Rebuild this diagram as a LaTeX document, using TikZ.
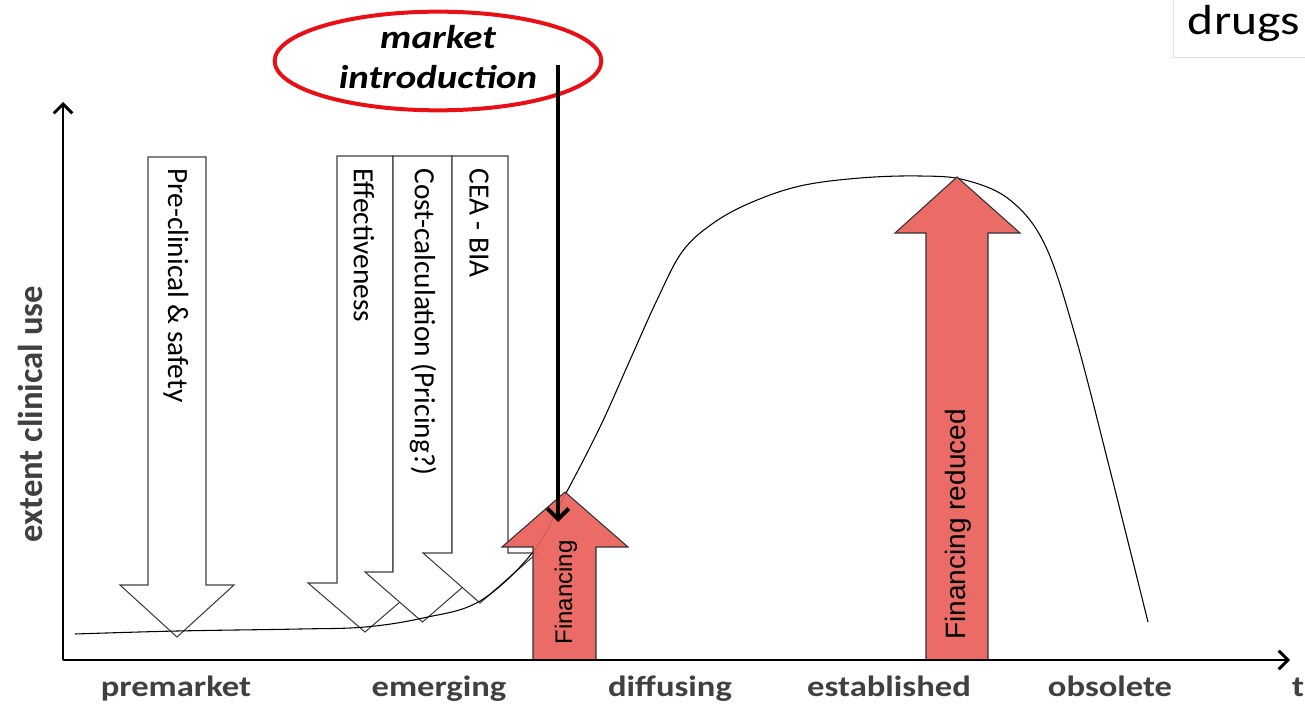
\documentclass[tikz,border=0pt]{standalone}
\usepackage{fontspec}
\setmainfont{Carlito}
\newfontfamily\arialfont{Liberation Sans}
\usetikzlibrary{arrows.meta,shapes.geometric}

\definecolor{finred}{RGB}{234,96,90}
\definecolor{introred}{RGB}{232,16,22}
\definecolor{axisgray}{RGB}{64,64,64}

\tikzset{every picture/.style={line width=0.75pt}}
\tikzset{
  stagelabel/.style={text=axisgray, font=\fontsize{22}{24}\selectfont\bfseries, xscale=1.18, anchor=base, inner sep=0pt},
  whitearrow/.style={draw=black!75, fill=white, line width=0.8pt},
  redarrow/.style={draw=black!80, fill=finred, fill opacity=0.93, line width=0.8pt},
  downtext/.style={rotate=-90, anchor=west, inner sep=0pt, font=\fontsize{22}{24}\selectfont},
  uptext/.style={rotate=90, anchor=west, inner sep=0pt, font=\arialfont\fontsize{18}{20}\selectfont},
}

\begin{document}
\begin{tikzpicture}[x=0.75pt,y=0.75pt,yscale=-1,xscale=1]
\useasboundingbox (0,0) rectangle (1305,706);

%Shape: box top right
\node [draw=black!12, line width=0.8pt, anchor=north west, minimum width=110pt, minimum height=44.25pt, inner sep=0pt] (drugbox) at (1173,-2) {};
% Text Node
\node [font=\fontsize{31.5}{34}\selectfont, xscale=1.18, inner sep=0pt] (drugs) at (1244,24) {drugs};

%Shape: white arrows
\draw [whitearrow] (148,157) -- (206,157) -- (206,585) -- (234,585) -- (177,637) -- (120,585) -- (148,585) -- cycle ;
\draw [whitearrow] (337,156) -- (393,156) -- (393,583) -- (422,583) -- (365,632) -- (308,583) -- (337,583) -- cycle ;
\draw [whitearrow] (393,156) -- (452,156) -- (452,572) -- (480,572) -- (422.5,622) -- (365,572) -- (393,572) -- cycle ;
\draw [whitearrow] (452,156) -- (508,156) -- (508,553) -- (537,553) -- (480,603) -- (423,553) -- (452,553) -- cycle ;

% Text Node
\node [downtext] (preclin) at (176,168) {Pre-clinical \& safety};
\node [downtext] (effect) at (364,168) {Effectiveness};
\node [downtext] (costcalc) at (423,168) {Cost-calculation (Pricing?)};
\node [downtext] (ceabia) at (479,168) {CEA - BIA};

%Curve: extent of clinical use
\draw [line width=0.8pt] plot [smooth, tension=0.6] coordinates {(75,634) (177,631) (300,629) (365,627) (423,618) (480,601) (533,552) (565,495) (600,427) (630,360) (657,300) (682,252) (712,224) (750,203) (800,186) (860,178) (920,176) (965,180) (1010,200) (1045,245) (1075,335) (1110,470) (1148,622)};

%Shape: red arrows
\draw [redarrow] (533,660) -- (533,547) -- (502,547) -- (565,492) -- (628,547) -- (596,547) -- (596,660) -- cycle ;
\draw [redarrow] (926,660) -- (926,233) -- (895,233) -- (957,177) -- (1020,233) -- (988,233) -- (988,660) -- cycle ;

% Text Node
\node [uptext] (fin) at (566,645) {Financing};
\node [uptext, font=\arialfont\fontsize{21}{23}\selectfont] (finred) at (958,640) {Financing reduced};

%Axes
\coordinate (origin) at (63,660);
\coordinate (ytop) at (63,102);
\coordinate (xend) at (1290,660);
\draw [line width=2.2pt, -{Straight Barb[length=7pt,width=14pt]}] (origin) -- (ytop);
\draw [line width=2.2pt, -{Straight Barb[length=7pt,width=14pt]}] (origin) -- (xend);

% Text Node
\node [text=axisgray, font=\fontsize{26}{28}\selectfont\bfseries, rotate=90, anchor=base, inner sep=0pt] (ylabel) at (42,414) {extent clinical use};
\node [stagelabel] (premarket) at (176,696) {premarket};
\node [stagelabel] (emerging) at (439,696) {emerging};
\node [stagelabel] (diffusing) at (670,696) {diffusing};
\node [stagelabel] (established) at (889,696) {established};
\node [stagelabel] (obsolete) at (1110,696) {obsolete};
\node [stagelabel] (tlabel) at (1298,696) {t};

%Shape: market introduction
\node [ellipse, draw=introred, line width=3pt, minimum width=245pt, minimum height=74pt, inner sep=0pt] (intro) at (438,61) {};
\node [font=\fontsize{24.75}{30}\selectfont\bfseries\itshape, xscale=1.18, align=center, inner sep=0pt] (introtext) at (438,57) {market\\introduction};
\coordinate (introstart) at (558,65);
\coordinate (introtip) at (558,522);
\draw [line width=3pt, -{Straight Barb[length=8pt,width=16pt]}] (introstart) -- (introtip);

\end{tikzpicture}
\end{document}
